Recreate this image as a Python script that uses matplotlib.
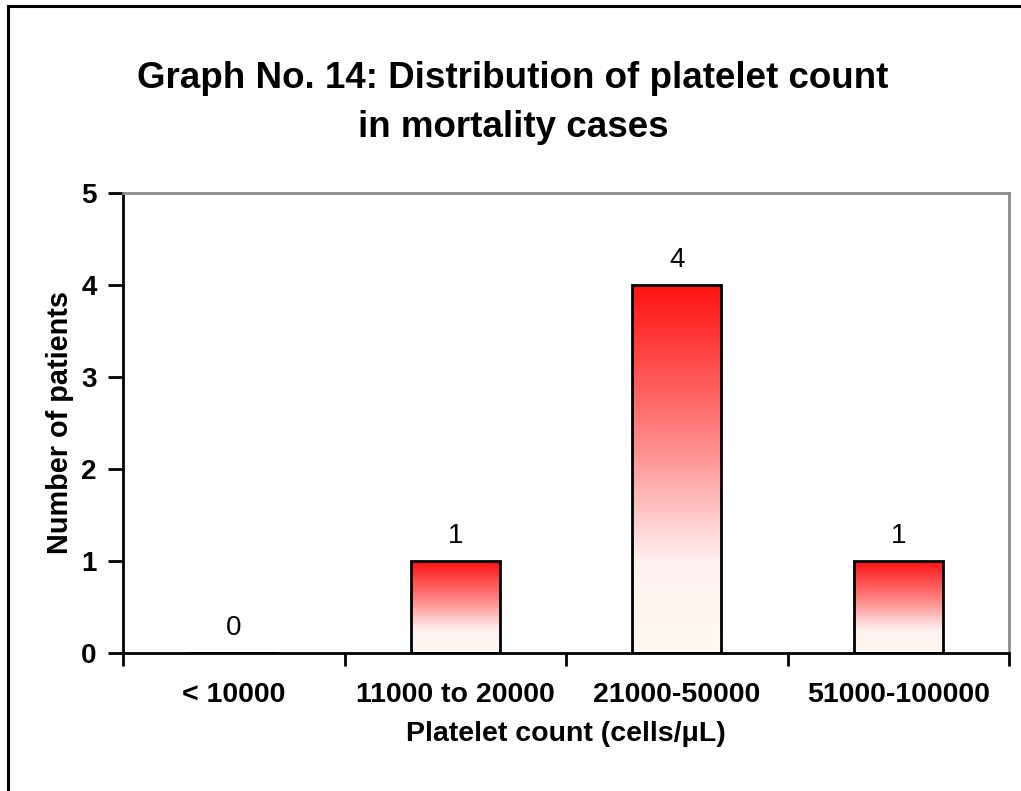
import matplotlib
matplotlib.use("Agg")
import matplotlib.pyplot as plt
import numpy as np
from matplotlib.colors import LinearSegmentedColormap
from matplotlib.patches import Rectangle

categories = ["< 10000", "11000 to 20000", "21000-50000", "51000-100000"]
values = [0, 1, 4, 1]
yticks = [0, 1, 2, 3, 4, 5]
title = "Graph No. 14: Distribution of platelet count\nin mortality cases"
xlabel = "Platelet count (cells/\u03bcL)"
ylabel = "Number of patients"

plt.rcParams['font.family'] = ['Liberation Sans', 'DejaVu Sans']

W, H = 1021, 791
fig = plt.figure(figsize=(W / 100, H / 100), dpi=100)
ax = fig.add_axes([123 / W, 1 - 653 / H, (1009 - 123) / W, (653 - 193) / H])

# outer frame (extends beyond right and bottom edges)
fig.patches.append(Rectangle((7.5 / W, -0.1), 1.2, 1 - 5.5 / H + 0.1,
                             transform=fig.transFigure, fill=False,
                             edgecolor='black', linewidth=2.2))

cmap = LinearSegmentedColormap.from_list(
    "rw", [(0.0, "#fffaf2"), (0.25, "#fff0f0"), (0.6, "#ff8080"), (1.0, "#ff1212")])
grad = np.linspace(0, 1, 256).reshape(-1, 1)

x = np.arange(len(categories))
bw = 0.4
bars = ax.bar(x, values, width=bw, facecolor='none', edgecolor='black',
              linewidth=2.0, zorder=3)
for b, v in zip(bars, values):
    if v > 0:
        x0 = b.get_x()
        ax.imshow(grad, extent=[x0, x0 + bw, 0, v], origin='lower',
                  cmap=cmap, aspect='auto', zorder=2, interpolation='bicubic')
    ax.text(b.get_x() + bw / 2, v + 0.13, str(v), ha='center', va='bottom',
            fontsize=20)

ax.set_xlim(-0.5, len(categories) - 0.5)
ax.set_ylim(0, 5)
ax.set_yticks(yticks)
ax.set_yticklabels([str(t) for t in yticks], fontsize=20, fontweight='bold')
ax.set_xticks(x)
ax.set_xticklabels(categories, fontsize=20.5, fontweight='bold')
ax.tick_params(axis='x', length=0, pad=21)
ax.set_xticks(np.arange(-0.5, len(categories)), minor=True)
ax.tick_params(axis='x', which='minor', length=9, width=2, direction='out')
ax.tick_params(axis='y', length=11, width=2, direction='out', pad=8)

for s in ['left', 'bottom']:
    ax.spines[s].set_linewidth(2)
    ax.spines[s].set_color('black')
for s in ['top', 'right']:
    ax.spines[s].set_linewidth(2)
    ax.spines[s].set_color('#8c8c8c')

ax.set_xlabel(xlabel, fontsize=20.5, fontweight='bold', labelpad=9)
ax.set_ylabel(ylabel, fontsize=20.8, fontweight='bold', labelpad=5)

fig.text(513 / W, 1 - 103 / H, title, ha='center', va='center',
         fontsize=26.5, fontweight='bold', linespacing=1.5)

fig.savefig("out.png", dpi=100)
